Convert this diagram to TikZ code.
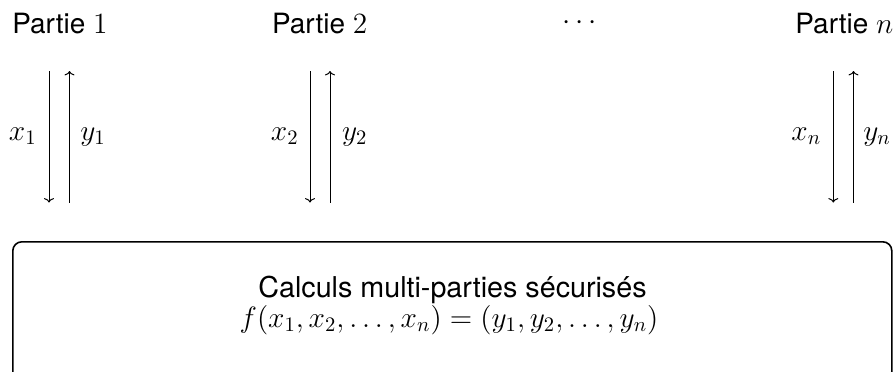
\RequirePackage{fix-cm}
\documentclass[tikz,border=0pt]{standalone}
\usepackage{fontspec}
\setsansfont{TeX Gyre Heros}[Scale=0.95]
\usetikzlibrary{arrows.meta}
\tikzset{
  lbl/.style={inner sep=0pt, font=\fontsize{14.7}{17.6}\selectfont\sffamily},
  flow/.style={line width=0.5pt, -{To[length=2.2pt,width=5pt]}},
  mpcbox/.style={draw, line width=0.8pt, rounded corners=4.5pt},
}
\begin{document}
\begin{tikzpicture}[x=0.5pt,y=-0.5pt]
\useasboundingbox (0,0) rectangle (893,371);
\clip (0,0) rectangle (893,371);
% party titles
\node[lbl, anchor=base west] (p1) at (12,33) {Partie $1$};
\node[lbl, anchor=base west] (p2) at (271.7,33) {Partie $2$};
\node[lbl, anchor=base] (dots) at (580,29) {$\cdots$};
\node[lbl, anchor=base west] (pn) at (795,33) {Partie $n$};
% arrow ends
\coordinate (a1t) at (49,71);   \coordinate (a1b) at (49,202.5);
\coordinate (b1t) at (69.5,71); \coordinate (b1b) at (69.5,202.5);
\coordinate (a2t) at (310,71);  \coordinate (a2b) at (310,202.5);
\coordinate (b2t) at (330,71);  \coordinate (b2b) at (330,202.5);
\coordinate (ant) at (833.3,71); \coordinate (anb) at (833.3,202.5);
\coordinate (bnt) at (853.5,71);   \coordinate (bnb) at (853.5,202.5);
\draw[flow] (a1t) -- (a1b);
\draw[flow] (b1b) -- (b1t);
\draw[flow] (a2t) -- (a2b);
\draw[flow] (b2b) -- (b2t);
\draw[flow] (ant) -- (anb);
\draw[flow] (bnb) -- (bnt);
% labels
\node[lbl, anchor=base east] (x1) at (37,140) {$x_1$};
\node[lbl, anchor=base west] (y1) at (80,140) {$y_1$};
\node[lbl, anchor=base east] (x2) at (299,140) {$x_2$};
\node[lbl, anchor=base west] (y2) at (341.7,140) {$y_2$};
\node[lbl, anchor=base east] (xn) at (821.5,140) {$x_n$};
\node[lbl, anchor=base west] (yn) at (863,140) {$y_n$};
% box
\node[mpcbox, minimum width=439.5pt, minimum height=69.5pt, anchor=north west, inner sep=0pt] (mpc) at (12,241) {};
\node[lbl, font=\fontsize{15.1}{18}\selectfont\sffamily, anchor=base] (title) at (452.5,297) {Calculs multi-parties sécurisés};
\node[lbl, anchor=base] (formula) at (449,327) {$f(x_1,x_2,\ldots,x_n)=(y_1,y_2,\ldots,y_n)$};
\end{tikzpicture}
\end{document}
